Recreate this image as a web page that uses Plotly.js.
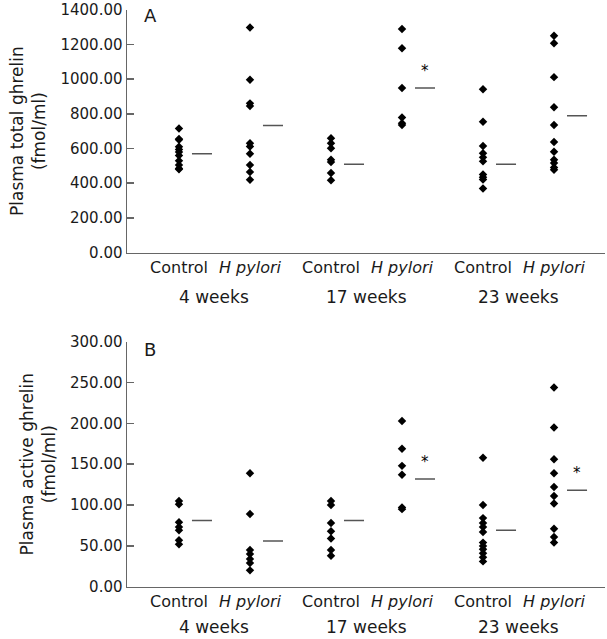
<!DOCTYPE html>
<html>
<head>
<meta charset="utf-8">
<script src="https://cdn.plot.ly/plotly-3.0.1.min.js"></script>
<style>html,body{margin:0;padding:0;background:#fff;}#chart{width:607px;height:639px;}</style>
</head>
<body>
<div id="chart"></div>
<script>
// Column positions (category slots) and labels
const positions = [1, 2, 3.141, 4.141, 5.282, 6.282];
const groupLabels = ['Control', '<i>H pylori</i>', 'Control', '<i>H pylori</i>', 'Control', '<i>H pylori</i>'];
const weekLabels = ['4 weeks', '17 weeks', '23 weeks'];

// Panel A: plasma total ghrelin (fmol/ml)
const totalCtrl4 = [715, 655, 650, 610, 595, 580, 560, 530, 505, 485, 480];
const totalHp4 = [1297, 996, 860, 845, 630, 612, 570, 505, 465, 420];
const totalCtrl17 = [659, 630, 602, 535, 522, 459, 417];
const totalHp17 = [1288, 1177, 949, 779, 745, 735];
const totalCtrl23 = [941, 754, 615, 573, 549, 526, 450, 434, 421, 370];
const totalHp23 = [1249, 1206, 1011, 838, 735, 638, 581, 535, 516, 491, 478];
const totalMeans = [570, 733, 510, 949, 510, 789];
const totalStars = [false, false, false, true, false, false];

// Panel B: plasma active ghrelin (fmol/ml)
const activeCtrl4 = [105, 101, 79, 73, 69, 57, 52];
const activeHp4 = [139, 89, 45, 40, 34, 29, 20];
const activeCtrl17 = [105, 100, 78, 68, 59, 45, 38];
const activeHp17 = [203, 169, 148, 137, 97, 95];
const activeCtrl23 = [158, 100, 84, 78, 73, 67, 54, 50, 46, 41, 36, 31];
const activeHp23 = [244, 195, 156, 139, 122, 111, 102, 71, 61, 54];
const activeMeans = [81, 56, 81, 132, 69, 118];
const activeStars = [false, false, false, true, false, true];

const totalTicks = [0, 200, 400, 600, 800, 1000, 1200, 1400];
const activeTicks = [0, 50, 100, 150, 200, 250, 300];

const totalGroups = [totalCtrl4, totalHp4, totalCtrl17, totalHp17, totalCtrl23, totalHp23];
const activeGroups = [activeCtrl4, activeHp4, activeCtrl17, activeHp17, activeCtrl23, activeHp23];

const FONT = 'DejaVu Sans, sans-serif';
const TXT = '#1a1a1a';
const AXC = '#666666';

const traces = [];
function addPanel(groups, means, xa, ya) {
  groups.forEach((vals, i) => {
    traces.push({
      type: 'scatter', mode: 'markers', xaxis: xa, yaxis: ya,
      x: vals.map(() => positions[i]), y: vals,
      marker: {symbol: 'diamond', size: 6.5, color: '#000'},
      hoverinfo: 'y', showlegend: false, cliponaxis: false
    });
    traces.push({
      type: 'scatter', mode: 'lines', xaxis: xa, yaxis: ya,
      x: [positions[i] + 0.183, positions[i] + 0.465], y: [means[i], means[i]],
      line: {color: '#555555', width: 1.5}, hoverinfo: 'skip', showlegend: false
    });
  });
}
addPanel(totalGroups, totalMeans, 'x', 'y');
addPanel(activeGroups, activeMeans, 'x2', 'y2');

const annotations = [];
function addStars(stars, means, xref, yref) {
  stars.forEach((s, i) => {
    if (!s) return;
    annotations.push({
      xref: xref, yref: yref, x: positions[i] + 0.324, y: means[i],
      text: '*', showarrow: false, yshift: 17, xanchor: 'center', yanchor: 'middle',
      font: {family: FONT, size: 15, color: '#000'}
    });
  });
}
addStars(totalStars, totalMeans, 'x', 'y');
addStars(activeStars, activeMeans, 'x2', 'y2');

function addWeeks(yPaper) {
  weekLabels.forEach((w, k) => {
    annotations.push({
      xref: 'x', yref: 'paper', x: (positions[2 * k] + positions[2 * k + 1]) / 2, y: yPaper,
      text: w, showarrow: false, xanchor: 'center', yanchor: 'middle',
      font: {family: FONT, size: 17, color: TXT}
    });
  });
}
addWeeks(1 - 297 / 639);
addWeeks(1 - 627 / 639);

annotations.push({xref: 'paper', yref: 'paper', x: (150 - 127) / 478, y: 1 - 15 / 639, text: 'A',
  showarrow: false, xanchor: 'center', yanchor: 'middle', font: {family: FONT, size: 18, color: TXT}});
annotations.push({xref: 'paper', yref: 'paper', x: (150 - 127) / 478, y: 1 - 349 / 639, text: 'B',
  showarrow: false, xanchor: 'center', yanchor: 'middle', font: {family: FONT, size: 18, color: TXT}});

const xBase = {
  range: [0.268, 7.0], showgrid: false, zeroline: false, showline: true,
  linecolor: AXC, linewidth: 1.5, ticks: '', tickvals: positions, ticktext: groupLabels,
  tickfont: {family: FONT, size: 16, color: TXT}, fixedrange: true
};
const yBase = {
  showgrid: false, zeroline: false, showline: true, linecolor: AXC, linewidth: 1.5,
  ticks: 'inside', ticklen: 7, tickcolor: AXC, tickwidth: 1.5, tickformat: '.2f',
  tickfont: {family: FONT, size: 15, color: TXT}, fixedrange: true, ticklabeloverflow: 'allow'
};

const layout = {
  width: 607, height: 639,
  margin: {l: 127, r: 2, t: 0, b: 0},
  paper_bgcolor: '#fff', plot_bgcolor: '#fff',
  font: {family: FONT, color: TXT},
  showlegend: false,
  xaxis: Object.assign({}, xBase, {anchor: 'y', domain: [0, 1]}),
  xaxis2: Object.assign({}, xBase, {anchor: 'y2', domain: [0, 1]}),
  yaxis: Object.assign({}, yBase, {anchor: 'x', domain: [1 - 252.7 / 639, 1 - 9.5 / 639], range: [0, 1400.5],
    tickvals: totalTicks,
    title: {text: 'Plasma total ghrelin<br>(fmol/ml)', font: {family: FONT, size: 17, color: TXT}, standoff: 10}}),
  yaxis2: Object.assign({}, yBase, {anchor: 'x2', domain: [1 - 586.7 / 639, 1 - 341.7 / 639], range: [0, 300.1],
    tickvals: activeTicks,
    title: {text: 'Plasma active ghrelin<br>(fmol/ml)', font: {family: FONT, size: 17, color: TXT}, standoff: 10}}),
  annotations: annotations
};

Plotly.newPlot('chart', traces, layout, {displayModeBar: false, staticPlot: true});
</script>
</body>
</html>
